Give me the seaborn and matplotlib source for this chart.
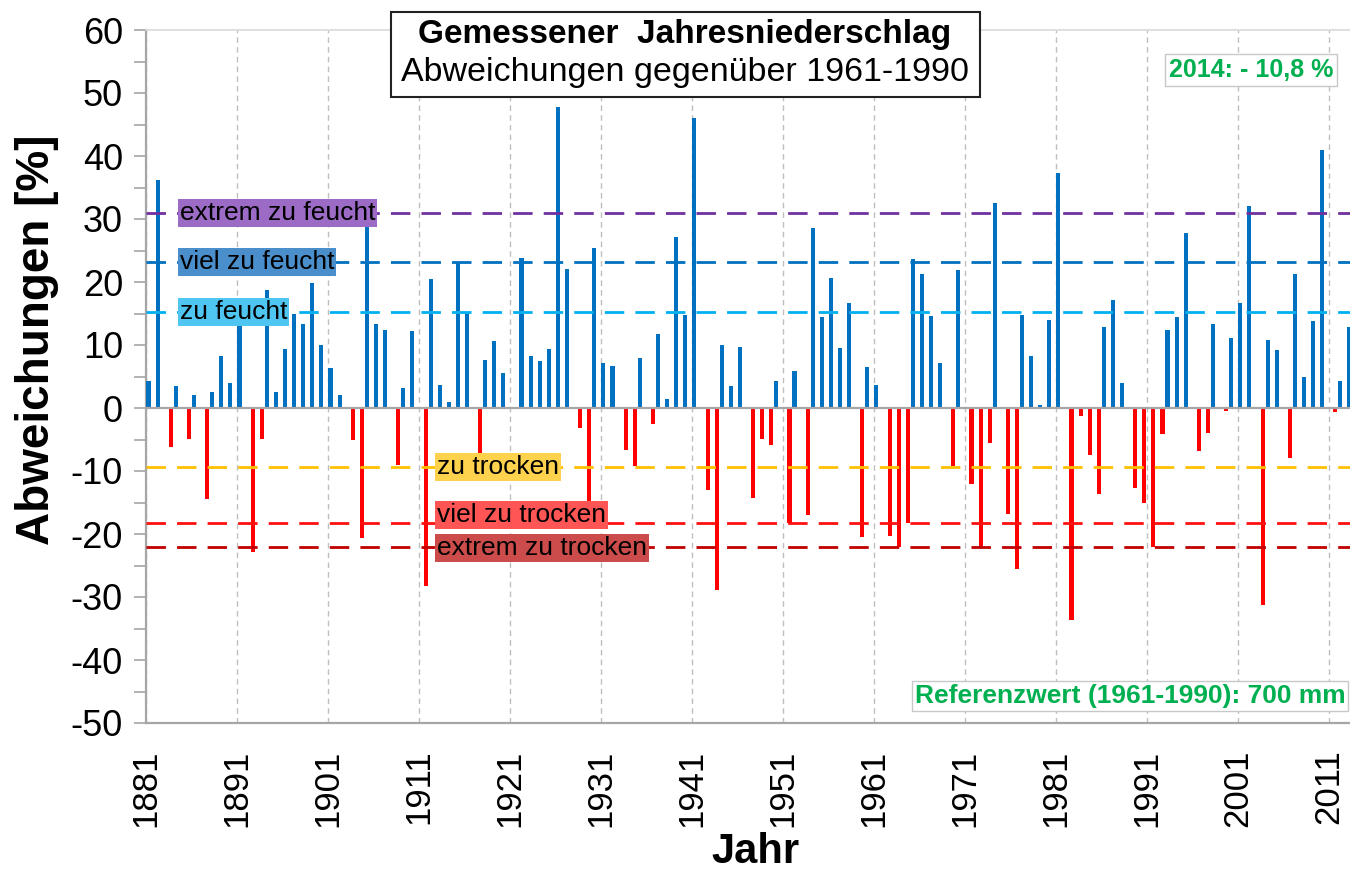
import numpy as np
import pandas as pd
import matplotlib
matplotlib.use("Agg")
import matplotlib.pyplot as plt
import seaborn as sns
from matplotlib.patches import Rectangle

# ---------------- data ----------------
years = list(range(1881, 2014))
deviation = [
    # 1881-1890
    4.3, 36.2, -6.2, 3.5, -4.9, 2.1, -14.5, 2.5, 8.3, 3.9,
    # 1891-1900
    14.4, -22.9, -4.9, 18.7, 2.5, 9.4, 14.9, 13.3, 19.8, 10.0,
    # 1901-1910
    6.3, 2.1, -5.1, -20.6, 29.3, 13.3, 12.4, -9.0, 3.2, 12.2,
    # 1911-1920
    -28.3, 20.5, 3.7, 1.0, 23.2, 15.1, -7.1, 7.6, 10.6, 5.6,
    # 1921-1930
    0.0, 23.8, 8.3, 7.4, 9.4, 47.7, 22.1, -3.2, -16.8, 25.4,
    # 1931-1940
    7.1, 6.6, -6.7, -9.2, 7.9, -2.6, 11.8, 1.4, 27.2, 14.8,
    # 1941-1950
    46.1, -13.0, -28.9, 10.0, 3.5, 9.7, -14.3, -4.9, -5.8, 4.3,
    # 1951-1960
    -18.2, 5.8, -17.0, 28.6, 14.5, 20.7, 9.5, 16.6, -20.4, 6.5,
    # 1961-1970
    3.7, -20.3, -22.1, -18.2, 23.6, 21.2, 14.6, 7.2, -9.2, 21.9,
    # 1971-1980
    -12.1, -22.1, -5.5, 32.6, -16.8, -25.5, 14.7, 8.3, 0.4, 14.0,
    # 1981-1990
    37.3, -33.7, -1.3, -7.4, -13.6, 12.9, 17.2, 3.9, -12.7, -15.0,
    # 1991-2000
    -22.1, -4.2, 12.4, 14.5, 27.8, -6.9, -4.0, 13.3, -0.4, 11.1,
    # 2001-2010
    16.6, 32.0, -31.2, 10.8, 9.2, -7.9, 21.3, 5.0, 13.8, 41.0,
    # 2011-2013
    -0.6, 4.3, 12.9,
]

threshold_values = [31.0, 23.2, 15.2, -9.3, -18.2, -22.1]
threshold_labels = ["extrem zu feucht", "viel zu feucht", "zu feucht",
                    "zu trocken", "viel zu trocken", "extrem zu trocken"]
threshold_colors = ["#7030A0", "#0070C0", "#00B0F0", "#FFC000", "#FF1010", "#C00000"]
label_bg = ["#9B6BC6", "#4A8FCB", "#4FC6F2", "#FFD24D", "#FF5555", "#CC4B4B"]
label_y = [31.0, 23.2, 15.2, -9.4, -17.0, -22.2]
label_x = [1884.7, 1884.7, 1884.7, 1913.0, 1913.0, 1913.0]

xticks = list(range(1881, 2012, 10))
yticks = list(range(-50, 61, 10))
yminor = list(range(-45, 60, 10))

title_line1 = "Gemessener  Jahresniederschlag"
title_line2 = "Abweichungen gegenüber 1961-1990"
note_2014 = "2014: - 10,8 %"
note_ref = "Referenzwert (1961-1990): 700 mm"

# ---------------- style ----------------
sns.set_theme(style="white")
plt.rcParams["font.family"] = ["Liberation Sans", "DejaVu Sans"]
plt.rcParams["text.color"] = "black"
plt.rcParams["axes.labelcolor"] = "black"
plt.rcParams["xtick.color"] = "black"
plt.rcParams["ytick.color"] = "black"

W, H = 1350, 875
fig = plt.figure(figsize=(W / 100, H / 100), dpi=100)
ax = fig.add_axes([146 / W, 1 - 723 / H, (1352 - 146) / W, (723 - 30) / H])

df = pd.DataFrame({"year": years, "value": deviation})
df["slot"] = df["year"] + 0.5
df["sign"] = np.where(df["value"] >= 0, "nass", "trocken")

sns.barplot(data=df, x="slot", y="value", hue="sign",
            hue_order=["nass", "trocken"],
            palette={"nass": "#0070C0", "trocken": "#FF0000"},
            native_scale=True, dodge=True, width=0.9, errorbar=None,
            legend=False, saturation=1, linewidth=0, ax=ax, zorder=3)

# threshold lines
for v, c in zip(threshold_values, threshold_colors):
    ax.axhline(v, color=c, lw=2.0, dashes=(7, 4), zorder=4)

# zero line
ax.axhline(0, color="#A6A6A6", lw=1.6, zorder=3.5)

# threshold labels
for x, y, t, bg in zip(label_x, label_y, threshold_labels, label_bg):
    ax.text(x, y, t, ha="left", va="center", fontsize=19, color="black",
            zorder=5,
            bbox=dict(boxstyle="square,pad=0.08", fc=bg, ec="none"))

ax.set_xlim(1881, 2013.55)
ax.set_ylim(-50, 60)

ax.set_xticks(xticks)
ax.set_xticklabels([str(t) for t in xticks], rotation=90, fontsize=25)
ax.set_yticks(yticks)
ax.set_yticklabels([str(t) for t in yticks], fontsize=26)
ax.set_yticks(yminor, minor=True)
ax.tick_params(axis="y", which="both", direction="out", length=8.6,
               width=1.2, color="#A6A6A6", labelcolor="black", left=True, pad=8)
ax.tick_params(axis="x", which="both", length=0, pad=19, labelcolor="black")

ax.grid(axis="x", color="#BFBFBF", lw=1.0, linestyle=(0, (4, 3)), zorder=1)
ax.grid(axis="y", visible=False)
ax.set_axisbelow(True)

for s in ["left", "bottom"]:
    ax.spines[s].set_color("#A6A6A6")
    ax.spines[s].set_linewidth(1.6)
for s in ["top", "right"]:
    ax.spines[s].set_color("#D9D9D9")
    ax.spines[s].set_linewidth(1.2)

ax.set_ylabel("Abweichungen [%]", fontsize=33, fontweight="bold", color="black")
ax.yaxis.set_label_coords(-0.072, 0.553)
ax.set_xlabel("Jahr", fontsize=30, fontweight="bold", color="black")
ax.xaxis.set_label_coords(0.505, -0.158)
ax.xaxis.label.set_va("top")

# title box
fig.add_artist(Rectangle((391 / W, 1 - 97 / H), (980 - 391) / W, (97 - 12) / H,
                         transform=fig.transFigure, fc="white", ec="#222222",
                         lw=1.5, zorder=6))
fig.text(685 / W, 1 - 35 / H, title_line1, ha="center", va="center",
         fontsize=24, fontweight="bold", color="black", zorder=7)
fig.text(685 / W, 1 - 73 / H, title_line2, ha="center", va="center",
         fontsize=24.5, color="black", zorder=7)

# green notes
fig.text(1251 / W, 1 - 70 / H, note_2014, ha="center", va="center",
         fontsize=18, fontweight="bold", color="#00B050", zorder=7,
         bbox=dict(boxstyle="square,pad=0.15", fc="white", ec="#C8C8C8", lw=1))
fig.text(1130 / W, 1 - 696 / H, note_ref, ha="center", va="center",
         fontsize=19, fontweight="bold", color="#00B050", zorder=7,
         bbox=dict(boxstyle="square,pad=0.1", fc="white", ec="#C8C8C8", lw=1))

fig.savefig("out.png", dpi=100, facecolor="white")
